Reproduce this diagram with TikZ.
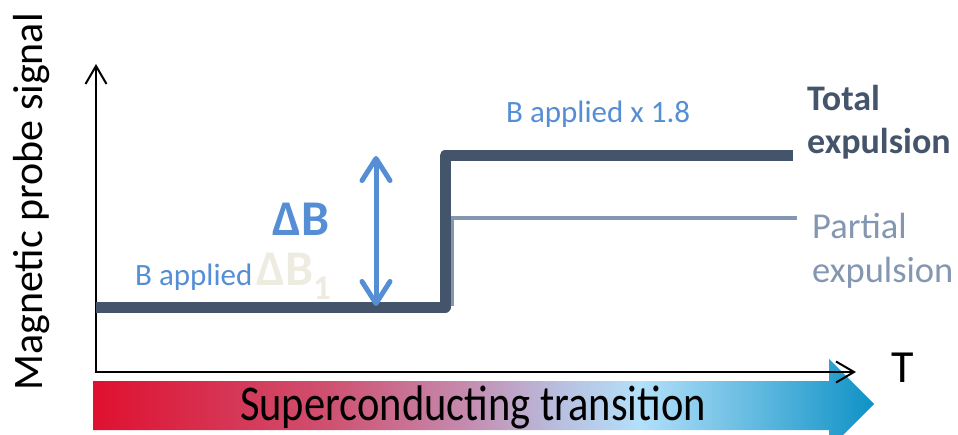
\documentclass[tikz,border=0pt]{standalone}
\usepackage{fontspec}
\setmainfont{Carlito}
\usetikzlibrary{arrows.meta}
\definecolor{dark}{HTML}{44546A}
\definecolor{partial}{HTML}{8497B0}
\definecolor{bblue}{HTML}{558ED5}
\definecolor{faint}{HTML}{EEECE1}
\definecolor{g1}{HTML}{E0102F}
\definecolor{g2}{HTML}{CF5070}
\definecolor{g3}{HTML}{C48CB0}
\definecolor{g4}{HTML}{B8C0E0}
\definecolor{g5}{HTML}{B3E0FA}
\definecolor{g6}{HTML}{0E92C5}
\pgfdeclarehorizontalshading{sct}{100bp}{color(0bp)=(g1); color(25bp)=(g1); color(40bp)=(g2); color(49bp)=(g3); color(55bp)=(g4); color(60bp)=(g5); color(75bp)=(g6); color(100bp)=(g6)}
\tikzset{
  axis/.style={line width=2pt,-{Straight Barb[length=18pt,width=21pt,line width=2pt]}},
  total/.style={line width=11pt,dark,line join=round},
  partialline/.style={line width=4pt,partial},
  bluearrow/.style={line width=5pt,bblue,line cap=round,{Straight Barb[length=22pt,width=28pt,line width=5pt,round]}-{Straight Barb[length=22pt,width=28pt,line width=5pt,round]}},
  lbl/.style={inner sep=0pt,anchor=base west,font=\fontsize{31}{36}\selectfont}
}
\begin{document}
\begin{tikzpicture}[x=1pt,y=-1pt]
\useasboundingbox (0,0) rectangle (958,434);
% gradient arrow
\path[shading=sct] (93,381) -- (829,381) -- (829,359) -- (874,404) -- (829,449) -- (829,430) -- (93,430) -- cycle;
\node[inner sep=0pt,anchor=base west,xscale=0.85,font=\fontsize{50}{56}\selectfont] (sct) at (240,420) {Superconducting transition};
% axes
\coordinate (o) at (96,372);
\coordinate (ytop) at (96,64);
\coordinate (xend) at (856,372);
\draw[axis] (o) -- (ytop);
\draw[axis] ([xshift=-1pt]o) -- (xend);
\node[inner sep=0pt,font=\fontsize{46}{50}\selectfont,anchor=base west] (T) at (891,382) {T};
\node[inner sep=0pt,font=\fontsize{42}{48}\selectfont,rotate=90,anchor=base] (ylab) at (42,202) {Magnetic probe signal};
% curves
\coordinate (p0) at (452,306);
\coordinate (p1) at (452,218);
\coordinate (p2) at (797,218);
\draw[partialline] (p0) -- (p1) -- (p2);
\coordinate (t0) at (96,307);
\coordinate (t1) at (445,307);
\coordinate (t2) at (445,155.5);
\coordinate (t3) at (793,155.5);
\draw[total] (t0) -- (t1) -- (t2) -- (t3);
% delta B arrow
\coordinate (a1) at (376,156);
\coordinate (a2) at (376,306);
\draw[bluearrow] (a1) -- (a2);
% labels
\node[inner sep=0pt,anchor=base west,font=\bfseries\fontsize{50}{56}\selectfont,text=bblue] (dB) at (272,235) {ΔB};
\node[lbl,text=bblue] (bapp) at (135,285) {B applied};
\node[inner sep=0pt,anchor=base west,text=faint,font=\bfseries\fontsize{50}{56}\selectfont] (dB1) at (256,285) {ΔB\textsubscript{1}};
\node[lbl,text=bblue] (bx) at (506,122) {B applied x 1.8};
\node[inner sep=0pt,anchor=base west,align=left,text=dark,font=\bfseries\fontsize{36}{43}\selectfont] (tot) at (807,153) {Total\\expulsion};
\node[inner sep=0pt,anchor=base west,align=left,text=partial,font=\fontsize{36.5}{44}\selectfont] (par) at (812,282) {Partial\\expulsion};
\end{tikzpicture}
\end{document}
